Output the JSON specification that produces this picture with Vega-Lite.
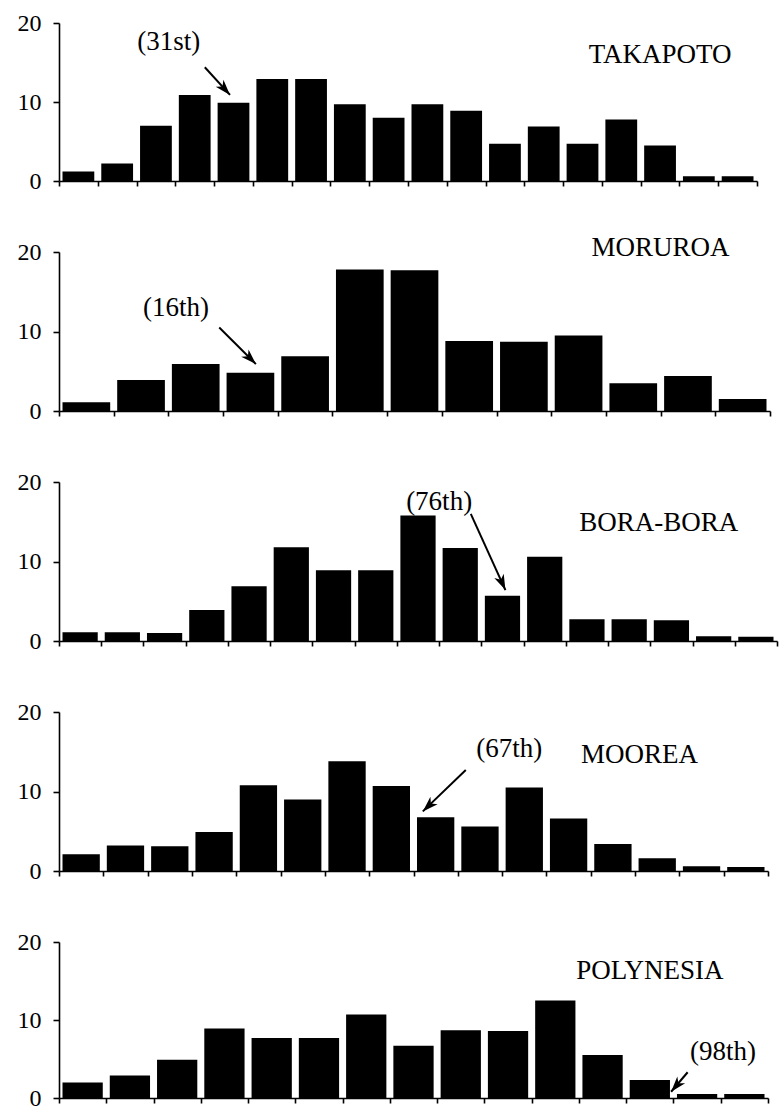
{
  "$schema": "https://vega.github.io/schema/vega-lite/v6.json",
  "background": "white",
  "padding": {"left": 17, "top": 11, "right": 2, "bottom": 2},
  "bounds": "flush",
  "spacing": 71,
  "config": {
    "view": {"stroke": null},
    "axis": {"domainColor": "black", "domainWidth": 1.6, "tickColor": "black", "tickWidth": 1.6, "labelFont": "Liberation Serif", "labelFontSize": 24, "labelColor": "black", "grid": false, "title": null},
    "text": {"font": "Liberation Serif", "fontSize": 27, "color": "black"}
  },
  "datasets": {
    "bars": [
      {"p": "TAKAPOTO", "b0": 0, "b1": 1, "v": 1.2}, {"p": "TAKAPOTO", "b0": 1, "b1": 2, "v": 2.2}, {"p": "TAKAPOTO", "b0": 2, "b1": 3, "v": 7.0}, {"p": "TAKAPOTO", "b0": 3, "b1": 4, "v": 10.9}, {"p": "TAKAPOTO", "b0": 4, "b1": 5, "v": 9.9}, {"p": "TAKAPOTO", "b0": 5, "b1": 6, "v": 12.9}, {"p": "TAKAPOTO", "b0": 6, "b1": 7, "v": 12.9}, {"p": "TAKAPOTO", "b0": 7, "b1": 8, "v": 9.7}, {"p": "TAKAPOTO", "b0": 8, "b1": 9, "v": 8.0}, {"p": "TAKAPOTO", "b0": 9, "b1": 10, "v": 9.7}, {"p": "TAKAPOTO", "b0": 10, "b1": 11, "v": 8.9}, {"p": "TAKAPOTO", "b0": 11, "b1": 12, "v": 4.7}, {"p": "TAKAPOTO", "b0": 12, "b1": 13, "v": 6.9}, {"p": "TAKAPOTO", "b0": 13, "b1": 14, "v": 4.7}, {"p": "TAKAPOTO", "b0": 14, "b1": 15, "v": 7.8}, {"p": "TAKAPOTO", "b0": 15, "b1": 16, "v": 4.5}, {"p": "TAKAPOTO", "b0": 16, "b1": 17, "v": 0.6}, {"p": "TAKAPOTO", "b0": 17, "b1": 18, "v": 0.6},
      {"p": "MORUROA", "b0": 0, "b1": 1, "v": 1.1}, {"p": "MORUROA", "b0": 1, "b1": 2, "v": 3.9}, {"p": "MORUROA", "b0": 2, "b1": 3, "v": 5.9}, {"p": "MORUROA", "b0": 3, "b1": 4, "v": 4.8}, {"p": "MORUROA", "b0": 4, "b1": 5, "v": 6.9}, {"p": "MORUROA", "b0": 5, "b1": 6, "v": 17.8}, {"p": "MORUROA", "b0": 6, "b1": 7, "v": 17.7}, {"p": "MORUROA", "b0": 7, "b1": 8, "v": 8.8}, {"p": "MORUROA", "b0": 8, "b1": 9, "v": 8.7}, {"p": "MORUROA", "b0": 9, "b1": 10, "v": 9.5}, {"p": "MORUROA", "b0": 10, "b1": 11, "v": 3.5}, {"p": "MORUROA", "b0": 11, "b1": 12, "v": 4.4}, {"p": "MORUROA", "b0": 12, "b1": 13, "v": 1.5},
      {"p": "BORA-BORA", "b0": 0, "b1": 1, "v": 1.1}, {"p": "BORA-BORA", "b0": 1, "b1": 2, "v": 1.1}, {"p": "BORA-BORA", "b0": 2, "b1": 3, "v": 1.0}, {"p": "BORA-BORA", "b0": 3, "b1": 4, "v": 3.9}, {"p": "BORA-BORA", "b0": 4, "b1": 5, "v": 6.9}, {"p": "BORA-BORA", "b0": 5, "b1": 6, "v": 11.8}, {"p": "BORA-BORA", "b0": 6, "b1": 7, "v": 8.9}, {"p": "BORA-BORA", "b0": 7, "b1": 8, "v": 8.9}, {"p": "BORA-BORA", "b0": 8, "b1": 9, "v": 15.8}, {"p": "BORA-BORA", "b0": 9, "b1": 10, "v": 11.7}, {"p": "BORA-BORA", "b0": 10, "b1": 11, "v": 5.7}, {"p": "BORA-BORA", "b0": 11, "b1": 12, "v": 10.6}, {"p": "BORA-BORA", "b0": 12, "b1": 13, "v": 2.75}, {"p": "BORA-BORA", "b0": 13, "b1": 14, "v": 2.75}, {"p": "BORA-BORA", "b0": 14, "b1": 15, "v": 2.6}, {"p": "BORA-BORA", "b0": 15, "b1": 16, "v": 0.6}, {"p": "BORA-BORA", "b0": 16, "b1": 17, "v": 0.55},
      {"p": "MOOREA", "b0": 0, "b1": 1, "v": 2.1}, {"p": "MOOREA", "b0": 1, "b1": 2, "v": 3.2}, {"p": "MOOREA", "b0": 2, "b1": 3, "v": 3.1}, {"p": "MOOREA", "b0": 3, "b1": 4, "v": 4.9}, {"p": "MOOREA", "b0": 4, "b1": 5, "v": 10.8}, {"p": "MOOREA", "b0": 5, "b1": 6, "v": 9.0}, {"p": "MOOREA", "b0": 6, "b1": 7, "v": 13.8}, {"p": "MOOREA", "b0": 7, "b1": 8, "v": 10.7}, {"p": "MOOREA", "b0": 8, "b1": 9, "v": 6.75}, {"p": "MOOREA", "b0": 9, "b1": 10, "v": 5.6}, {"p": "MOOREA", "b0": 10, "b1": 11, "v": 10.5}, {"p": "MOOREA", "b0": 11, "b1": 12, "v": 6.6}, {"p": "MOOREA", "b0": 12, "b1": 13, "v": 3.4}, {"p": "MOOREA", "b0": 13, "b1": 14, "v": 1.6}, {"p": "MOOREA", "b0": 14, "b1": 15, "v": 0.6}, {"p": "MOOREA", "b0": 15, "b1": 16, "v": 0.5},
      {"p": "POLYNESIA", "b0": 0, "b1": 1, "v": 2.0}, {"p": "POLYNESIA", "b0": 1, "b1": 2, "v": 2.9}, {"p": "POLYNESIA", "b0": 2, "b1": 3, "v": 4.9}, {"p": "POLYNESIA", "b0": 3, "b1": 4, "v": 8.9}, {"p": "POLYNESIA", "b0": 4, "b1": 5, "v": 7.7}, {"p": "POLYNESIA", "b0": 5, "b1": 6, "v": 7.7}, {"p": "POLYNESIA", "b0": 6, "b1": 7, "v": 10.7}, {"p": "POLYNESIA", "b0": 7, "b1": 8, "v": 6.7}, {"p": "POLYNESIA", "b0": 8, "b1": 9, "v": 8.7}, {"p": "POLYNESIA", "b0": 9, "b1": 10, "v": 8.6}, {"p": "POLYNESIA", "b0": 10, "b1": 11, "v": 12.5}, {"p": "POLYNESIA", "b0": 11, "b1": 12, "v": 5.5}, {"p": "POLYNESIA", "b0": 12, "b1": 13, "v": 2.3}, {"p": "POLYNESIA", "b0": 13, "b1": 14, "v": 0.5}, {"p": "POLYNESIA", "b0": 14, "b1": 15, "v": 0.5}
    ],
    "notes": [
      {"p": "TAKAPOTO", "x": 15.5, "y": 15.9, "t": "TAKAPOTO"}, {"p": "TAKAPOTO", "x": 2.83, "y": 17.6, "t": "(31st)"},
      {"p": "MORUROA", "x": 11.0, "y": 20.5, "t": "MORUROA"}, {"p": "MORUROA", "x": 2.14, "y": 12.95, "t": "(16th)"},
      {"p": "BORA-BORA", "x": 14.2, "y": 14.9, "t": "BORA-BORA"}, {"p": "BORA-BORA", "x": 9.0, "y": 17.45, "t": "(76th)"},
      {"p": "MOOREA", "x": 13.1, "y": 14.6, "t": "MOOREA"}, {"p": "MOOREA", "x": 10.16, "y": 15.3, "t": "(67th)"},
      {"p": "POLYNESIA", "x": 12.5, "y": 16.3, "t": "POLYNESIA"}, {"p": "POLYNESIA", "x": 14.05, "y": 5.9, "t": "(98th)"}
    ],
    "arrows": [
      {"p": "TAKAPOTO", "x": 3.76, "y": 14.4, "x2": 4.41, "y2": 10.9},
      {"p": "MORUROA", "x": 2.93, "y": 10.5, "x2": 3.6, "y2": 5.9},
      {"p": "BORA-BORA", "x": 9.75, "y": 16.0, "x2": 10.57, "y2": 6.4},
      {"p": "MOOREA", "x": 9.18, "y": 12.7, "x2": 8.21, "y2": 7.5},
      {"p": "POLYNESIA", "x": 13.3, "y": 3.3, "x2": 12.95, "y2": 0.8}
    ]
  },
  "vconcat": [
    {
      "width": 698, "height": 158,
      "encoding": {
        "x": {"type": "quantitative", "scale": {"domain": [0, 18], "nice": false}, "axis": {"values": [0,1,2,3,4,5,6,7,8,9,10,11,12,13,14,15,16,17,18], "labels": false, "tickSize": 5, "domainColor": "black", "domainWidth": 1.6, "tickColor": "black", "tickWidth": 1.6, "grid": false, "title": null}},
        "y": {"type": "quantitative", "scale": {"domain": [0, 20], "nice": false}, "axis": {"values": [0, 10, 20], "tickSize": 6, "labelPadding": 12, "labelFont": "Liberation Serif", "labelFontSize": 24, "labelColor": "black", "domainColor": "black", "domainWidth": 1.6, "tickColor": "black", "tickWidth": 1.6, "grid": false, "title": null}}
      },
      "layer": [
        {"data": {"name": "bars"}, "transform": [{"filter": "datum.p == 'TAKAPOTO'"}], "mark": {"type": "bar", "color": "black", "xOffset": 3.5, "x2Offset": -3.5}, "encoding": {"x": {"field": "b0"}, "x2": {"field": "b1"}, "y": {"field": "v"}, "y2": {"datum": 0}}},
        {"data": {"name": "notes"}, "transform": [{"filter": "datum.p == 'TAKAPOTO'"}], "mark": {"type": "text", "align": "center", "baseline": "middle"}, "encoding": {"x": {"field": "x"}, "y": {"field": "y"}, "text": {"field": "t"}}},
        {"data": {"name": "arrows"}, "transform": [{"filter": "datum.p == 'TAKAPOTO'"}], "mark": {"type": "rule", "color": "black", "strokeWidth": 2}, "encoding": {"x": {"field": "x"}, "y": {"field": "y"}, "x2": {"field": "x2"}, "y2": {"field": "y2"}}},
        {"data": {"name": "arrows"}, "transform": [{"filter": "datum.p == 'TAKAPOTO'"}], "mark": {"type": "point", "shape": "M0,0L0.6,1.8L0,1.3L-0.6,1.8Z", "filled": true, "opacity": 1, "color": "black", "size": 300, "angle": 138}, "encoding": {"x": {"field": "x2"}, "y": {"field": "y2"}}}
      ]
    },
    {
      "width": 711, "height": 159,
      "encoding": {
        "x": {"type": "quantitative", "scale": {"domain": [0, 13], "nice": false}, "axis": {"values": [0,1,2,3,4,5,6,7,8,9,10,11,12,13], "labels": false, "tickSize": 5, "domainColor": "black", "domainWidth": 1.6, "tickColor": "black", "tickWidth": 1.6, "grid": false, "title": null}},
        "y": {"type": "quantitative", "scale": {"domain": [0, 20], "nice": false}, "axis": {"values": [0, 10, 20], "tickSize": 6, "labelPadding": 12, "labelFont": "Liberation Serif", "labelFontSize": 24, "labelColor": "black", "domainColor": "black", "domainWidth": 1.6, "tickColor": "black", "tickWidth": 1.6, "grid": false, "title": null}}
      },
      "layer": [
        {"data": {"name": "bars"}, "transform": [{"filter": "datum.p == 'MORUROA'"}], "mark": {"type": "bar", "color": "black", "xOffset": 3.5, "x2Offset": -3.5}, "encoding": {"x": {"field": "b0"}, "x2": {"field": "b1"}, "y": {"field": "v"}, "y2": {"datum": 0}}},
        {"data": {"name": "notes"}, "transform": [{"filter": "datum.p == 'MORUROA'"}], "mark": {"type": "text", "align": "center", "baseline": "middle"}, "encoding": {"x": {"field": "x"}, "y": {"field": "y"}, "text": {"field": "t"}}},
        {"data": {"name": "arrows"}, "transform": [{"filter": "datum.p == 'MORUROA'"}], "mark": {"type": "rule", "color": "black", "strokeWidth": 2}, "encoding": {"x": {"field": "x"}, "y": {"field": "y"}, "x2": {"field": "x2"}, "y2": {"field": "y2"}}},
        {"data": {"name": "arrows"}, "transform": [{"filter": "datum.p == 'MORUROA'"}], "mark": {"type": "point", "shape": "M0,0L0.6,1.8L0,1.3L-0.6,1.8Z", "filled": true, "opacity": 1, "color": "black", "size": 300, "angle": 135}, "encoding": {"x": {"field": "x2"}, "y": {"field": "y2"}}}
      ]
    },
    {
      "width": 718, "height": 159,
      "encoding": {
        "x": {"type": "quantitative", "scale": {"domain": [0, 17], "nice": false}, "axis": {"values": [0,1,2,3,4,5,6,7,8,9,10,11,12,13,14,15,16,17], "labels": false, "tickSize": 5, "domainColor": "black", "domainWidth": 1.6, "tickColor": "black", "tickWidth": 1.6, "grid": false, "title": null}},
        "y": {"type": "quantitative", "scale": {"domain": [0, 20], "nice": false}, "axis": {"values": [0, 10, 20], "tickSize": 6, "labelPadding": 12, "labelFont": "Liberation Serif", "labelFontSize": 24, "labelColor": "black", "domainColor": "black", "domainWidth": 1.6, "tickColor": "black", "tickWidth": 1.6, "grid": false, "title": null}}
      },
      "layer": [
        {"data": {"name": "bars"}, "transform": [{"filter": "datum.p == 'BORA-BORA'"}], "mark": {"type": "bar", "color": "black", "xOffset": 3.5, "x2Offset": -3.5}, "encoding": {"x": {"field": "b0"}, "x2": {"field": "b1"}, "y": {"field": "v"}, "y2": {"datum": 0}}},
        {"data": {"name": "notes"}, "transform": [{"filter": "datum.p == 'BORA-BORA'"}], "mark": {"type": "text", "align": "center", "baseline": "middle"}, "encoding": {"x": {"field": "x"}, "y": {"field": "y"}, "text": {"field": "t"}}},
        {"data": {"name": "arrows"}, "transform": [{"filter": "datum.p == 'BORA-BORA'"}], "mark": {"type": "rule", "color": "black", "strokeWidth": 2}, "encoding": {"x": {"field": "x"}, "y": {"field": "y"}, "x2": {"field": "x2"}, "y2": {"field": "y2"}}},
        {"data": {"name": "arrows"}, "transform": [{"filter": "datum.p == 'BORA-BORA'"}], "mark": {"type": "point", "shape": "M0,0L0.6,1.8L0,1.3L-0.6,1.8Z", "filled": true, "opacity": 1, "color": "black", "size": 300, "angle": 155.6}, "encoding": {"x": {"field": "x2"}, "y": {"field": "y2"}}}
      ]
    },
    {
      "width": 709, "height": 159,
      "encoding": {
        "x": {"type": "quantitative", "scale": {"domain": [0, 16], "nice": false}, "axis": {"values": [0,1,2,3,4,5,6,7,8,9,10,11,12,13,14,15,16], "labels": false, "tickSize": 5, "domainColor": "black", "domainWidth": 1.6, "tickColor": "black", "tickWidth": 1.6, "grid": false, "title": null}},
        "y": {"type": "quantitative", "scale": {"domain": [0, 20], "nice": false}, "axis": {"values": [0, 10, 20], "tickSize": 6, "labelPadding": 12, "labelFont": "Liberation Serif", "labelFontSize": 24, "labelColor": "black", "domainColor": "black", "domainWidth": 1.6, "tickColor": "black", "tickWidth": 1.6, "grid": false, "title": null}}
      },
      "layer": [
        {"data": {"name": "bars"}, "transform": [{"filter": "datum.p == 'MOOREA'"}], "mark": {"type": "bar", "color": "black", "xOffset": 3.5, "x2Offset": -3.5}, "encoding": {"x": {"field": "b0"}, "x2": {"field": "b1"}, "y": {"field": "v"}, "y2": {"datum": 0}}},
        {"data": {"name": "notes"}, "transform": [{"filter": "datum.p == 'MOOREA'"}], "mark": {"type": "text", "align": "center", "baseline": "middle"}, "encoding": {"x": {"field": "x"}, "y": {"field": "y"}, "text": {"field": "t"}}},
        {"data": {"name": "arrows"}, "transform": [{"filter": "datum.p == 'MOOREA'"}], "mark": {"type": "rule", "color": "black", "strokeWidth": 2}, "encoding": {"x": {"field": "x"}, "y": {"field": "y"}, "x2": {"field": "x2"}, "y2": {"field": "y2"}}},
        {"data": {"name": "arrows"}, "transform": [{"filter": "datum.p == 'MOOREA'"}], "mark": {"type": "point", "shape": "M0,0L0.6,1.8L0,1.3L-0.6,1.8Z", "filled": true, "opacity": 1, "color": "black", "size": 300, "angle": 226}, "encoding": {"x": {"field": "x2"}, "y": {"field": "y2"}}}
      ]
    },
    {
      "width": 709, "height": 156,
      "encoding": {
        "x": {"type": "quantitative", "scale": {"domain": [0, 15], "nice": false}, "axis": {"values": [0,1,2,3,4,5,6,7,8,9,10,11,12,13,14,15], "labels": false, "tickSize": 5, "domainColor": "black", "domainWidth": 1.6, "tickColor": "black", "tickWidth": 1.6, "grid": false, "title": null}},
        "y": {"type": "quantitative", "scale": {"domain": [0, 20], "nice": false}, "axis": {"values": [0, 10, 20], "tickSize": 6, "labelPadding": 12, "labelFont": "Liberation Serif", "labelFontSize": 24, "labelColor": "black", "domainColor": "black", "domainWidth": 1.6, "tickColor": "black", "tickWidth": 1.6, "grid": false, "title": null}}
      },
      "layer": [
        {"data": {"name": "bars"}, "transform": [{"filter": "datum.p == 'POLYNESIA'"}], "mark": {"type": "bar", "color": "black", "xOffset": 3.5, "x2Offset": -3.5}, "encoding": {"x": {"field": "b0"}, "x2": {"field": "b1"}, "y": {"field": "v"}, "y2": {"datum": 0}}},
        {"data": {"name": "notes"}, "transform": [{"filter": "datum.p == 'POLYNESIA'"}], "mark": {"type": "text", "align": "center", "baseline": "middle"}, "encoding": {"x": {"field": "x"}, "y": {"field": "y"}, "text": {"field": "t"}}},
        {"data": {"name": "arrows"}, "transform": [{"filter": "datum.p == 'POLYNESIA'"}], "mark": {"type": "rule", "color": "black", "strokeWidth": 2}, "encoding": {"x": {"field": "x"}, "y": {"field": "y"}, "x2": {"field": "x2"}, "y2": {"field": "y2"}}},
        {"data": {"name": "arrows"}, "transform": [{"filter": "datum.p == 'POLYNESIA'"}], "mark": {"type": "point", "shape": "M0,0L0.6,1.8L0,1.3L-0.6,1.8Z", "filled": true, "opacity": 1, "color": "black", "size": 300, "angle": 220.6}, "encoding": {"x": {"field": "x2"}, "y": {"field": "y2"}}}
      ]
    }
  ]
}
